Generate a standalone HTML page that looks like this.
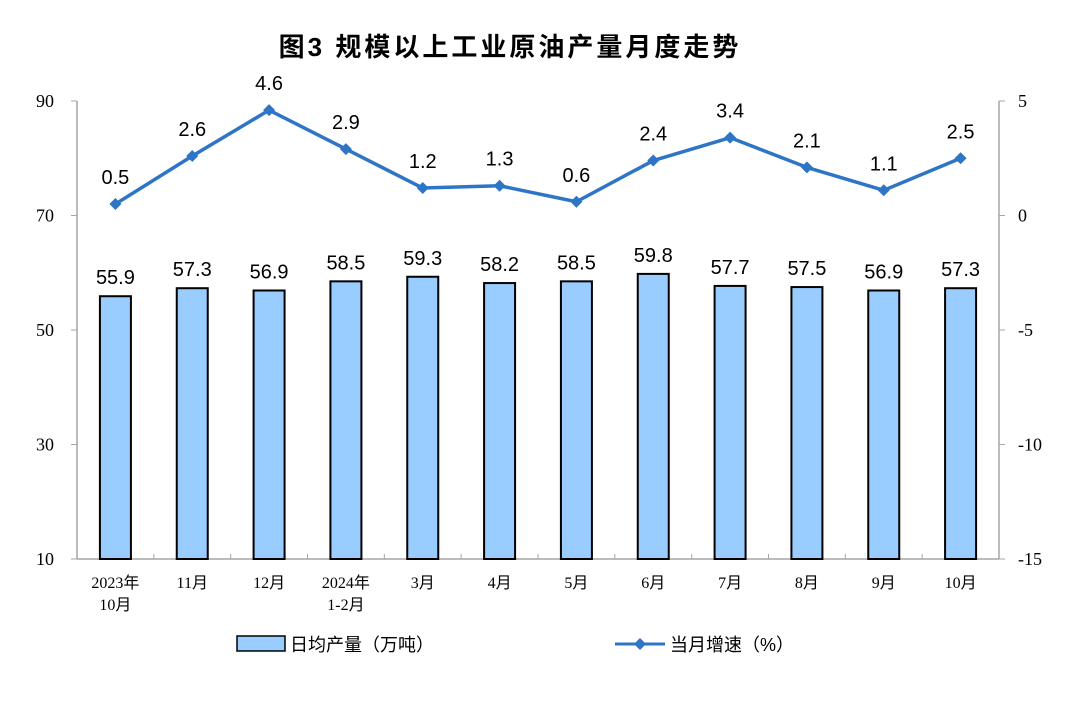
<!DOCTYPE html>
<html><head><meta charset="utf-8"><style>
body{margin:0;background:#fff;}
svg{display:block;}
</style></head><body>
<svg id="chart" width="1080" height="705" xmlns="http://www.w3.org/2000/svg">
<text x="510" y="56" text-anchor="middle" font-family="'Liberation Sans','Noto Sans CJK SC',sans-serif" font-size="26" letter-spacing="3" font-weight="bold" fill="#000">图3  规模以上工业原油产量月度走势</text>
<g id="plot"></g>
<g>
<rect x="237" y="636" width="48" height="15" fill="#99ccff" stroke="#000" stroke-width="1.5"/>
<text x="290" y="651" font-family="'Liberation Sans','Noto Sans CJK SC',sans-serif" font-size="18">日均产量（万吨）</text>
<line x1="615" y1="644" x2="665" y2="644" stroke="#2e75c6" stroke-width="3"/>
<path d="M640 638 L646 644 L640 650 L634 644 Z" fill="#2e75c6"/>
<text x="670" y="651" font-family="'Liberation Sans','Noto Sans CJK SC',sans-serif" font-size="18">当月增速（%）</text>
</g>
</svg>
<script>
const categories=[["2023年","10月"],["11月"],["12月"],["2024年","1-2月"],["3月"],["4月"],["5月"],["6月"],["7月"],["8月"],["9月"],["10月"]];
const production=[55.9,57.3,56.9,58.5,59.3,58.2,58.5,59.8,57.7,57.5,56.9,57.3];
const growth=[0.5,2.6,4.6,2.9,1.2,1.3,0.6,2.4,3.4,2.1,1.1,2.5];
const leftTicks=[10,30,50,70,90];
const rightTicks=[-15,-10,-5,0,5];

const NS="http://www.w3.org/2000/svg";
const g=document.getElementById('plot');
const X0=77,X1=999,Y0=559,Y1=101;
const bw=(X1-X0)/categories.length;
const xc=i=>X0+bw*(i+0.5);
const yL=v=>Y0-(v-10)/80*(Y0-Y1);
const yR=v=>Y0-(v+15)/20*(Y0-Y1);
function mk(t,a,txt){const e=document.createElementNS(NS,t);for(const k in a)e.setAttribute(k,a[k]);if(txt!==undefined)e.textContent=txt;g.appendChild(e);return e;}
const serif="'Liberation Serif','Noto Serif CJK SC',serif";
const sans="'Liberation Sans','Noto Sans CJK SC',sans-serif";
let e;
e=mk('line',{x1:X0,y1:Y1,x2:X0,y2:Y0,stroke:'#a6a6a6','stroke-width':1.5});


e=mk('line',{x1:X1,y1:Y1,x2:X1,y2:Y0,stroke:'#a6a6a6','stroke-width':1.5});


e=mk('line',{x1:X0,y1:Y0,x2:X1,y2:Y0,stroke:'#a6a6a6','stroke-width':1.5});


leftTicks.forEach(v=>{
 mk('line',{x1:X0-6,y1:yL(v),x2:X0,y2:yL(v),stroke:'#a6a6a6'});
 e=mk('text',{x:54,y:yL(v)+6,'text-anchor':'end','font-family':serif,'font-size':18},String(v));
 
 
});
rightTicks.forEach(v=>{
 mk('line',{x1:X1,y1:yR(v),x2:X1+6,y2:yR(v),stroke:'#a6a6a6'});
 e=mk('text',{x:1018,y:yR(v)+6,'font-family':serif,'font-size':18},String(v));
 
 
});
for(let i=1;i<categories.length;i++){mk('line',{x1:X0+bw*i,y1:Y0-5,x2:X0+bw*i,y2:Y0,stroke:'#a6a6a6'});}
production.forEach((v,i)=>{
 e=mk('rect',{x:xc(i)-15.5,y:yL(v),width:31,height:Y0-yL(v),fill:'#99ccff',stroke:'#000','stroke-width':2});
 
 
 e=mk('text',{x:xc(i),y:yL(v)-12,'text-anchor':'middle','font-family':sans,'font-size':20},v.toFixed(1));
 
 
});
categories.forEach((c,i)=>{
 c.forEach((s,j)=>{
  e=mk('text',{x:xc(i),y:588+j*22,'text-anchor':'middle','font-family':"'Liberation Serif','Noto Sans CJK SC',serif",'font-size':16},s);
  
  
 });
});
e=mk('polyline',{points:growth.map((v,i)=>xc(i)+','+yR(v)).join(' '),fill:'none',stroke:'#2e75c6','stroke-width':3.5,'stroke-linejoin':'round'});


growth.forEach((v,i)=>{
 const x=xc(i),y=yR(v);
 e=mk('path',{d:`M${x} ${y-6} L${x+6} ${y} L${x} ${y+6} L${x-6} ${y} Z`,fill:'#2e75c6'});
 
 
 e=mk('text',{x:x,y:y-20,'text-anchor':'middle','font-family':sans,'font-size':20},v.toFixed(1));
 
 
});
</script>
</body></html>
